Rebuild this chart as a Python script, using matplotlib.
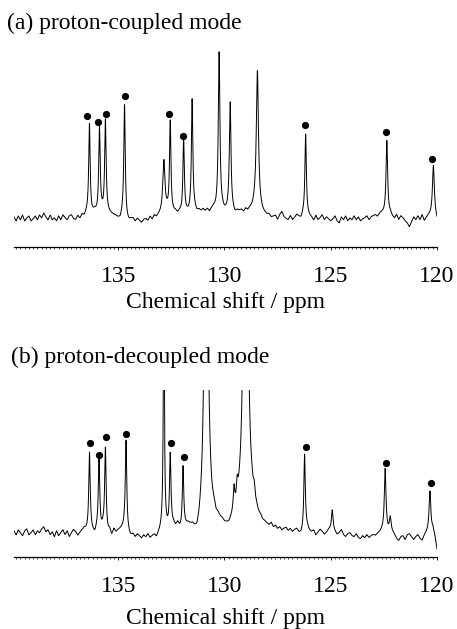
import numpy as np
import matplotlib
matplotlib.use("Agg")
import matplotlib.pyplot as plt
from matplotlib.ticker import MultipleLocator

plt.rcParams['font.family'] = ['Liberation Serif', 'DejaVu Serif']

# ---------------- data ----------------
# baseline samples every 0.1 ppm from 139.9 down to 120.0 (arb. units)
ppm_grid = np.round(np.arange(139.9, 119.95, -0.1), 2)

base_a = [1, -3, 2, -2, 3, -3, 0, 2, -3, -1,
          2, -2, 3, 0, 5, 1, -2, 3, -2, 0,
          -3, 2, -2, 3, 0, -2, 2, 3, -1, -2,
          2, -1, 3, 1, 4, 5, 2, 4, 6, 4,
          5, 6, 5, 7, 5, 4, 3, 2, 1, -1,
          -2, 2, 0, -3, -4, -2, -1, -4, -1, -3,
          -5, -2, -1, -3, 1, -2, 2, 0, 2, 3,
          4, 5, 6, 4, 3, 4, 5, 3, 5, 3,
          3, 4, 4, 5, 5, 7, 5, 7, 6, 8,
          6, 8, 5, 8, 9, 7, 8, 6, 7, 5,
          5, 6, 4, 5, 3, 6, 6, 7, 5, 8,
          6, 8, 8, 10, 10, 8, 6, 4, 3, 2,
          3, 0, 1, 2, -2, 3, 6, 1, -1, -2,
          2, -2, 0, 3, 1, -1, 3, 3, 2, 1,
          0, -3, 2, -2, 0, 3, -2, 1, -1, -3,
          -1, 2, -3, -5, 1, -2, 2, -3, 0, -2,
          2, -2, 1, -3, -1, 0, 2, -2, 1, 2,
          3, 1, 4, 5, 4, 3, 2, 4, 1, -1,
          3, -2, 2, 0, -3, -5, -9, -4, 1, -2,
          2, -2, 3, -3, 0, 2, 3, 5, 3, -2]

base_b = [2, -2, 3, 0, -3, 2, 4, -2, 0, 3,
          -2, 2, 0, 4, 6, 1, 3, -2, 1, -4,
          2, -3, 0, 3, -2, 2, -4, 0, 3, 1,
          -3, 0, 2, 4, 2, 1, 3, 0, -2, 3,
          4, 2, 5, 2, -1, 2, -3, 3, 0, 2,
          3, 4, 5, 1, -2, -4, -2, -5, -2, -4,
          -6, -3, -5, -2, -6, -4, -3, -6, -2, 1,
          5, 3, 2, 1, 4, 6, 4, 7, 2, 0,
          3, 4, 5, 3, 2, -3, -7, -4, 2, 6,
          8, 11, 13, 10, 12, 8, 9, 7, 6, 3,
          2, 1, 4, 7, 9, 8, 11, 12, 14, 15,
          14, 12, 15, 11, 12, 9, 9, 6, 6, 5,
          4, 7, 3, 5, 2, 4, 1, 3, 4, 1,
          3, 0, 2, 3, -1, -2, 0, 3, 4, 1,
          0, 2, -3, 0, 3, 1, -2, 0, 3, 4,
          5, 1, -2, 0, 3, -2, -4, -1, 0, -3,
          -4, -1, -5, -6, -3, -5, -2, -5, -3, -2,
          -3, -1, 0, 2, 2, 4, 2, 5, 1, -2,
          -6, -8, -4, -3, -7, -2, -1, -4, -7, -4,
          -2, -6, -8, -3, -1, 0, -3, 3, -4, -17]

# (a) proton-coupled: peak positions (ppm), heights, half-widths (ppm)
peaks_a_ppm = [136.35, 135.88, 135.60, 134.70, 132.85, 132.55, 131.92,
               131.52, 130.25, 129.73, 128.45, 126.18, 122.36, 120.17]
peaks_a_h = [90, 85, 90, 113, 52, 92, 75, 113, 158, 110, 138, 81, 75, 48]
peaks_a_w = [0.04, 0.04, 0.04, 0.04, 0.06, 0.04, 0.04, 0.04, 0.045,
             0.045, 0.06, 0.04, 0.045, 0.05]
dots_a_ppm = [136.47, 135.94, 135.56, 134.70, 132.60, 131.94, 126.21,
              122.39, 120.22]
dots_a_y = [102, 96, 104, 122, 104, 82, 93, 86, 59]

# (b) proton-decoupled
peaks_b_ppm = [136.35, 135.90, 135.60, 134.63, 132.85, 132.55, 131.95,
               130.86, 129.55, 129.40, 129.00, 128.60, 126.23, 124.93,
               122.44, 122.20, 120.33]
peaks_b_h = [78, 68, 82, 90, 250, 74, 62, 500, 22, 18, 500, 12, 76, 18,
             61, 10, 44]
peaks_b_w = [0.04, 0.04, 0.04, 0.04, 0.03, 0.04, 0.04, 0.08, 0.04, 0.04,
             0.10, 0.04, 0.04, 0.04, 0.045, 0.04, 0.05]
dots_b_ppm = [136.34, 135.92, 135.57, 134.65, 132.52, 131.91, 126.18,
              122.38, 120.28]
dots_b_y = [90, 78, 96, 99, 90, 76, 86, 70, 50]

titles = ["(a) proton-coupled mode", "(b) proton-decoupled mode"]
xlabel = "Chemical shift / ppm"
tick_vals = [135, 130, 125, 120]


def spectrum(x, base, pos, h, w):
    y = np.interp(x, ppm_grid[::-1], np.asarray(base, float)[::-1])
    for p, a, g in zip(pos, h, w):
        y = y + a * g**2 / ((x - p)**2 + g**2)
    return y


W, H = 457, 629
fig = plt.figure(figsize=(W / 100, H / 100), dpi=100)

x = np.linspace(139.9, 120.0, 6000)

panels = [
    dict(base=base_a, pos=peaks_a_ppm, h=peaks_a_h, w=peaks_a_w,
         dx=dots_a_ppm, dy=dots_a_y, top=50, bot=247, ylim=(-29, 168),
         title_xy=(7, 29), xl_y=308),
    dict(base=base_b, pos=peaks_b_ppm, h=peaks_b_h, w=peaks_b_w,
         dx=dots_b_ppm, dy=dots_b_y, top=390, bot=557, ylim=(-24, 143),
         title_xy=(11, 363), xl_y=624),
]

for i, P in enumerate(panels):
    ax = fig.add_axes([14 / W, 1 - P['bot'] / H, 423 / W,
                       (P['bot'] - P['top']) / H])
    y = spectrum(x, P['base'], P['pos'], P['h'], P['w'])
    ax.plot(x, y, color='black', lw=0.7)
    ax.plot(P['dx'], P['dy'], 'o', color='black', ms=5.2, mec='none')
    ax.set_xlim(139.9, 120.0)
    ax.set_ylim(*P['ylim'])
    for s in ['top', 'left', 'right']:
        ax.spines[s].set_visible(False)
    ax.spines['bottom'].set_linewidth(0.9)
    ax.set_yticks([])
    ax.set_xticks(tick_vals)
    ax.set_xticklabels([str(t) for t in tick_vals])
    ax.xaxis.set_minor_locator(MultipleLocator(0.2))
    ax.tick_params(axis='x', which='major', length=2.5, width=0.6,
                   direction='out', pad=11, labelsize=17)
    ax.tick_params(axis='x', which='minor', length=1.5, width=0.5,
                   direction='out')
    ax.patch.set_alpha(0)
    tx, ty = P['title_xy']
    fig.text(tx / W, 1 - ty / H, titles[i], fontsize=17, ha='left',
             va='baseline')
    fig.text(225 / W, 1 - P['xl_y'] / H, xlabel, fontsize=17, ha='center',
             va='baseline')

fig.savefig("out.png", dpi=100)
